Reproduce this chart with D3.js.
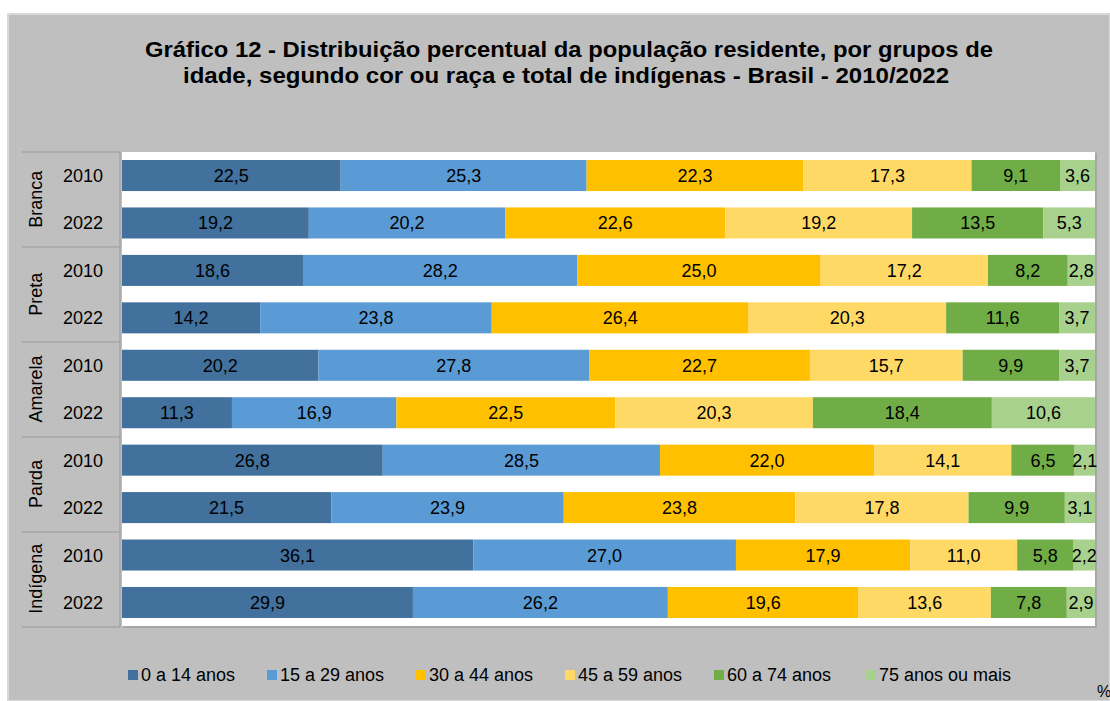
<!DOCTYPE html>
<html>
<head>
<meta charset="utf-8">
<script src="https://cdn.jsdelivr.net/npm/d3@7"></script>
<style>
  body { margin: 0; background: #fff; }
  svg { display: block; font-family: "Liberation Sans", Arial, sans-serif; }
</style>
</head>
<body>
<div id="chart"></div>
<script>
// dados do gráfico
var groups = ["Branca", "Preta", "Amarela", "Parda", "Indígena"];
var years = ["2010", "2022"];
var ageGroups = ["0 a 14 anos", "15 a 29 anos", "30 a 44 anos", "45 a 59 anos", "60 a 74 anos", "75 anos ou mais"];
var colors = ["#41719c", "#5b9bd5", "#ffc000", "#ffd966", "#70ad47", "#a9d18e"];

var branca = [[22.5, 25.3, 22.3, 17.3, 9.1, 3.6], [19.2, 20.2, 22.6, 19.2, 13.5, 5.3]];
var preta = [[18.6, 28.2, 25.0, 17.2, 8.2, 2.8], [14.2, 23.8, 26.4, 20.3, 11.6, 3.7]];
var amarela = [[20.2, 27.8, 22.7, 15.7, 9.9, 3.7], [11.3, 16.9, 22.5, 20.3, 18.4, 10.6]];
var parda = [[26.8, 28.5, 22.0, 14.1, 6.5, 2.1], [21.5, 23.9, 23.8, 17.8, 9.9, 3.1]];
var indigena = [[36.1, 27.0, 17.9, 11.0, 5.8, 2.2], [29.9, 26.2, 19.6, 13.6, 7.8, 2.9]];

var values = [branca, preta, amarela, parda, indigena];

// linhas da tabela para o stack
var rows = [];
groups.forEach(function(g, gi) {
  years.forEach(function(y, yi) {
    var r = { key: g + "|" + y, group: g, year: y };
    ageGroups.forEach(function(a, ai) { r[a] = values[gi][yi][ai]; });
    rows.push(r);
  });
});

var W = 1110, H = 701;
var plot = { left: 122, right: 1095, top: 152, bottom: 626 };

var svg = d3.select("#chart").append("svg")
  .attr("width", W)
  .attr("height", H);

// fundo cinza do gráfico
svg.append("rect")
  .attr("x", 8).attr("y", 14)
  .attr("width", W - 8).attr("height", H - 14)
  .style("fill", "#bfbfbf")
  .style("stroke", "#d9d9d9")
  .style("stroke-width", 2);

// título
var title = svg.append("g")
  .style("font-size", "22px")
  .style("font-weight", "bold")
  .style("fill", "#000");
title.append("text").attr("x", 145).attr("y", 57)
  .attr("textLength", 848).attr("lengthAdjust", "spacingAndGlyphs")
  .text("Gráfico 12 - Distribuição percentual da população residente, por grupos de");
title.append("text").attr("x", 183).attr("y", 83)
  .attr("textLength", 766).attr("lengthAdjust", "spacingAndGlyphs")
  .text("idade, segundo cor ou raça e total de indígenas - Brasil - 2010/2022");

// área de plotagem
svg.append("rect")
  .attr("x", plot.left + 1).attr("y", plot.top + 1)
  .attr("width", plot.right - plot.left + 1).attr("height", plot.bottom - plot.top + 1)
  .style("fill", "#a6a6a6");
svg.append("rect")
  .attr("x", plot.left).attr("y", plot.top)
  .attr("width", plot.right - plot.left).attr("height", plot.bottom - plot.top)
  .style("fill", "#fff");

var y = d3.scaleBand()
  .domain(rows.map(function(d) { return d.key; }))
  .range([plot.top, plot.bottom])
  .paddingInner(0.346)
  .paddingOuter(0.169);

var x = d3.scaleLinear()
  .domain([0, 1])
  .range([plot.left, plot.right]);

var stack = d3.stack()
  .keys(ageGroups)
  .offset(d3.stackOffsetExpand);
var series = stack(rows);

var layer = svg.append("g").selectAll("g")
  .data(series)
  .join("g")
  .style("fill", function(d, i) { return colors[i]; });

layer.selectAll("rect")
  .data(function(d) { return d; })
  .join("rect")
  .attr("x", function(d) { return x(d[0]); })
  .attr("y", function(d) { return y(d.data.key); })
  .attr("width", function(d) { return x(d[1]) - x(d[0]); })
  .attr("height", y.bandwidth());

// rótulos de dados
layer.each(function(s) {
  d3.select(this).selectAll("text")
    .data(s)
    .join("text")
    .attr("x", function(d) { return (x(d[0]) + x(d[1])) / 2; })
    .attr("y", function(d) { return y(d.data.key) + y.bandwidth() / 2 + 6.5; })
    .attr("text-anchor", "middle")
    .style("font-size", "18px")
    .style("fill", "#000")
    .text(function(d) { return d3.format(".1f")(d.data[s.key]).replace(".", ","); });
});

// eixo de categorias (grupos e anos)
var axis = svg.append("g");

axis.selectAll("line.sep")
  .data(d3.range(groups.length + 1))
  .join("line")
  .attr("x1", 22).attr("x2", 120)
  .attr("y1", function(i) { return plot.top + i * 95; })
  .attr("y2", function(i) { return plot.top + i * 95; })
  .style("stroke", "#a6a6a6")
  .style("stroke-width", 1.5);

axis.append("line")
  .attr("x1", 120).attr("x2", 120)
  .attr("y1", plot.top).attr("y2", plot.top + groups.length * 95)
  .style("stroke", "#a6a6a6")
  .style("stroke-width", 1.5);

axis.selectAll("text.year")
  .data(rows)
  .join("text")
  .attr("class", "year")
  .attr("x", 83)
  .attr("y", function(d) { return y(d.key) + y.bandwidth() / 2 + 6.5; })
  .attr("text-anchor", "middle")
  .style("font-size", "18px")
  .style("fill", "#000")
  .text(function(d) { return d.year; });

axis.selectAll("text.group")
  .data(groups)
  .join("text")
  .attr("class", "group")
  .attr("transform", function(g) {
    var cy = (y(g + "|2010") + y(g + "|2022") + y.bandwidth()) / 2;
    return "translate(42," + cy + ") rotate(-90)";
  })
  .attr("text-anchor", "middle")
  .style("font-size", "18px")
  .style("fill", "#000")
  .text(function(g) { return g; });

// legenda
var legendX = [128, 267, 416, 565, 714, 866];
var legend = svg.append("g").selectAll("g")
  .data(ageGroups)
  .join("g")
  .attr("transform", function(d, i) { return "translate(" + legendX[i] + ",681)"; });

legend.append("rect")
  .attr("x", 0).attr("y", -11)
  .attr("width", 10).attr("height", 10)
  .style("fill", function(d, i) { return colors[i]; });

legend.append("text")
  .attr("x", 13).attr("y", 0)
  .style("font-size", "18px")
  .style("fill", "#000")
  .text(function(d) { return d; });

svg.append("text")
  .attr("x", 1097).attr("y", 697)
  .style("font-size", "16px")
  .style("fill", "#000")
  .text("%");
</script>
</body>
</html>
